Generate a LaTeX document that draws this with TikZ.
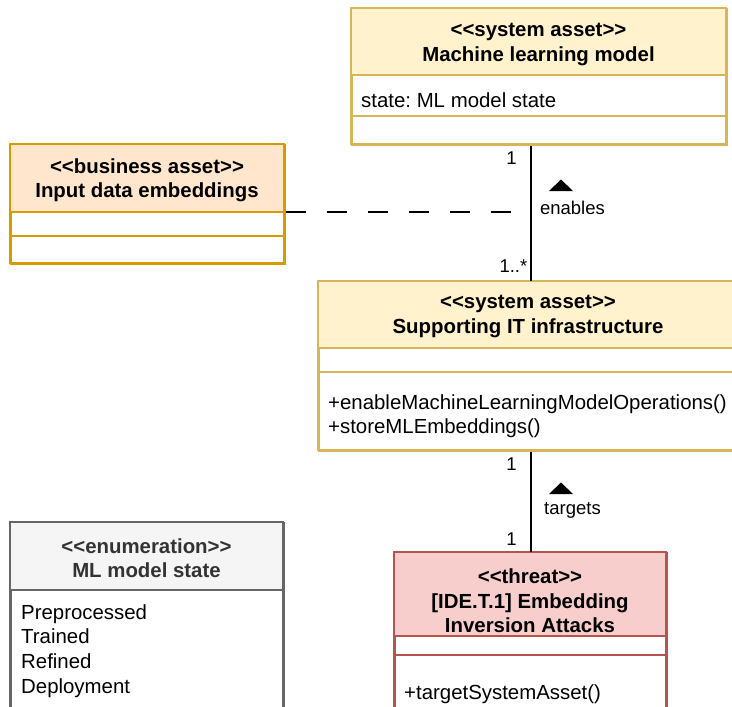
\documentclass[tikz,border=0pt]{standalone}
\usepackage{fontspec}
\setmainfont{Liberation Sans}
\usetikzlibrary{calc}

\definecolor{sysfill}{HTML}{FFF2CC}
\definecolor{sysline}{HTML}{D6B656}
\definecolor{busfill}{HTML}{FFE6CC}
\definecolor{busline}{HTML}{D79B00}
\definecolor{thrfill}{HTML}{F8CECC}
\definecolor{thrline}{HTML}{B85450}
\definecolor{enumfill}{HTML}{F5F5F5}
\definecolor{enumline}{HTML}{666666}
\definecolor{enumtext}{HTML}{333333}

% stereotype brackets, kept apart so they are not turned into guillemets
\newcommand{\stereo}[1]{<\kern0pt<#1>\kern0pt>}

\tikzset{
  classbox/.style={draw, line width=1.5pt, anchor=north west, inner sep=0pt},
  sysbox/.style={classbox, draw=sysline, fill=white},
  busbox/.style={classbox, draw=busline, fill=white},
  thrbox/.style={classbox, draw=thrline, fill=white},
  enumbox/.style={classbox, draw=enumline, fill=white},
  boxtext/.style={inner sep=0pt, font=\fontsize{20.4}{24.4}\selectfont},
  title/.style={boxtext, align=center, font=\fontsize{20.4}{24.4}\selectfont\bfseries},
  member/.style={boxtext, align=left, anchor=west},
  assoc/.style={line width=1.6pt, black},
  edgelabel/.style={inner sep=0pt, font=\fontsize{18.5}{22}\selectfont},
}

\begin{document}
\frenchspacing
\begin{tikzpicture}[x=1pt, y=-1pt]
\useasboundingbox (0,0) rectangle (732,707);
\clip (0,0) rectangle (732,707);

% ---- Machine learning model ----
\node[sysbox, minimum width=375pt, minimum height=136pt] (mlm) at (351,8) {};
\fill[sysfill] (351,8) rectangle (726,75);
\draw[sysline, line width=1.5pt] (351,8) rectangle (726,144);
\draw[sysline, line width=1.5pt] (351,75) -- (726,75) (351,116) -- (726,116);
\node[title] (mlmtitle) at (538.5,44.5) {\stereo{system asset}\\Machine learning model};
\node[member] (mlmattr) at (361,100) {state: ML model state};

% ---- Input data embeddings ----
\node[busbox, minimum width=274pt, minimum height=119pt] (ide) at (10,144) {};
\fill[busfill] (10,144) rectangle (284,212);
\draw[busline, line width=1.5pt] (10,144) rectangle (284,263);
\draw[busline, line width=1.5pt] (10,212) -- (284,212) (10,236) -- (284,236);
\node[title] (idetitle) at (147,180.5) {\stereo{business asset}\\Input data embeddings};

% ---- Supporting IT infrastructure ----
\node[sysbox, minimum width=424pt, minimum height=169pt] (sup) at (318,281) {};
\fill[sysfill] (318,281) rectangle (742,348);
\draw[sysline, line width=1.5pt] (318,281) rectangle (742,450);
\draw[sysline, line width=1.5pt] (318,348) -- (742,348) (318,372) -- (742,372);
\node[title] (suptitle) at (528,316.5) {\stereo{system asset}\\Supporting IT infrastructure};
\node[member] (supops) at (328,416) {+enableMachineLearningModelOperations()\\+storeMLEmbeddings()};

% ---- ML model state enumeration ----
\node[enumbox, minimum width=273pt, minimum height=200pt] (enum) at (10,522) {};
\fill[enumfill] (10,522) rectangle (283,590);
\draw[enumline, line width=1.5pt] (10,522) rectangle (283,722);
\draw[enumline, line width=1.5pt] (10,590) -- (283,590);
\node[title, text=enumtext] (enumtitle) at (146.5,558) {\stereo{enumeration}\\ML model state};
\node[member, font=\fontsize{20.4}{24.6}\selectfont] (enumvals) at (21,651) {Preprocessed\\Trained\\Refined\\Deployment};

% ---- Embedding inversion threat ----
\node[thrbox, minimum width=272pt, minimum height=170pt] (thr) at (394,552) {};
\fill[thrfill] (394,552) rectangle (666,636);
\draw[thrline, line width=1.5pt] (394,552) rectangle (666,722);
\draw[thrline, line width=1.5pt] (394,636) -- (666,636) (394,655) -- (666,655);
\node[title] (thrtitle) at (530,601) {\stereo{threat}\\{[IDE.T.1]} Embedding\\Inversion Attacks};
\node[member] (throps) at (404,694) {+targetSystemAsset()};

% ---- associations ----
\draw[assoc] (mlm.south -| sup.north) -- (sup.north);
\coordinate (assocmid) at (530,212);
\draw[line width=1.6pt, black, dash pattern=on 20.5pt off 20.5pt] (ide.east |- assocmid) -- (assocmid);
\draw[assoc] (sup.south) -- (thr.north);

% enables
\node[edgelabel] (m1) at (511.5,158) {1};
\node[edgelabel, anchor=east] (m2) at (527.5,266) {1..*};
\fill (549,191) -- (573,191) -- (561,179.5) -- cycle;
\node[edgelabel] (enables) at (572.5,208) {enables};

% targets
\node[edgelabel] (m3) at (511.5,464) {1};
\node[edgelabel] (m4) at (511.5,539) {1};
\fill (549,494) -- (573,494) -- (561,482.5) -- cycle;
\node[edgelabel] (targets) at (572.5,510) {targets};
\end{tikzpicture}
\end{document}
